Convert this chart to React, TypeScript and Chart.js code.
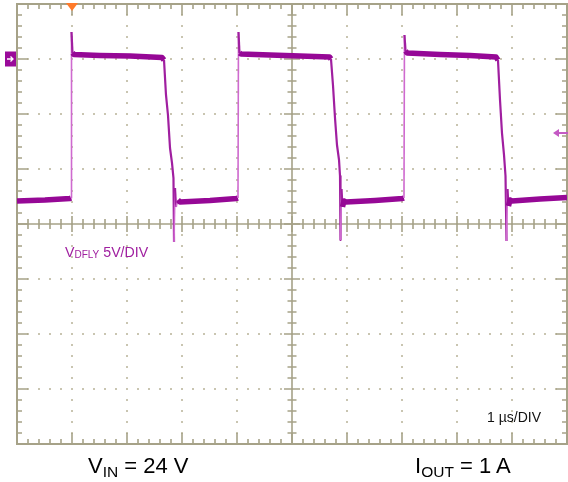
import React, { useEffect, useRef } from 'react';
import { Chart, registerables } from 'chart.js';

Chart.register(...registerables);

// Time axis: 1 µs/div, 10 divisions. Voltage: 5 V/div, channel ground at 0 V.
const timeUs = [
  0, 0.509, 0.964,
  0.982, 0.991, 1.009, 1.036,
  1.509, 2.055, 2.636,
  2.673, 2.709, 2.745, 2.782, 2.818, 2.845, 2.855, 2.873, 2.891, 2.927,
  2.964, 3.509, 3.991,
  4.018, 4.027, 4.045, 4.073,
  4.6, 5.145, 5.682,
  5.709, 5.745, 5.782, 5.818, 5.855, 5.873, 5.882, 5.9, 5.918, 5.945,
  5.982, 6.509, 7.009,
  7.036, 7.045, 7.064, 7.091,
  7.691, 8.236, 8.709,
  8.745, 8.782, 8.818, 8.855, 8.882, 8.9, 8.918, 8.936, 8.964,
  9.0, 9.509, 10,
];
const vDfly = [
  -12.91, -12.82, -12.68,
  -12.64, 2.45, 0.55, 0.41,
  0.32, 0.27, 0.14,
  -0.09, -3.27, -5.09, -8.09, -9.45, -10.82, -16.64, -11.73, -13.45, -12.82,
  -13.0, -12.86, -12.68,
  -12.64, 2.45, 0.55, 0.45,
  0.36, 0.27, 0.18,
  0, -2.36, -5.36, -7.82, -9.18, -10.64, -16.45, -11.82, -13.45, -12.91,
  -13.0, -12.86, -12.68,
  -12.64, 2.18, 0.73, 0.55,
  0.41, 0.32, 0.18,
  -0.09, -3.73, -6.73, -8.73, -10.64, -16.55, -11.82, -13.36, -12.82,
  -12.91, -12.73, -12.59,
];

const xMin = 0;
const xMax = 10;
const yMin = -35;
const yMax = 5;
const voltsPerDiv = 5;
const usPerDiv = 1;
const groundV = 0;
const trigTimeUs = 1.0;
const trigLevelV = -6.73;

const GRID = '#a6a288';
const DOT = '#c9c5b1';
const TRACE = '#960896';
const RISE = '#cf6acf';
const FALL = '#a01fa0';
const FONT = '"Liberation Sans", Arial, sans-serif';

const graticule = {
  id: 'graticule',
  beforeDatasetsDraw(chart: any) {
    const { ctx, chartArea: a, scales } = chart;
    const xs = scales.x;
    const ys = scales.y;
    const L = a.left, R = a.right, T = a.top, B = a.bottom;
    const xc = xs.getPixelForValue((xMin + xMax) / 2);
    const yc = ys.getPixelForValue((yMin + yMax) / 2);
    const nx = Math.round((xMax - xMin) / usPerDiv);
    const ny = Math.round((yMax - yMin) / voltsPerDiv);
    const mx = (R - L) / (nx * 5);
    const my = (B - T) / (ny * 5);
    ctx.save();
    // dotted division lines
    ctx.fillStyle = DOT;
    for (let i = 1; i < nx; i++) {
      if (i * 2 === nx) continue;
      const px = xs.getPixelForValue(xMin + i * usPerDiv);
      for (let k = 1; k < ny * 5; k++) {
        const py = T + k * my;
        ctx.fillRect(Math.round(px) - 1, Math.round(py) - 1, 2, 2);
      }
    }
    for (let j = 1; j < ny; j++) {
      if (j * 2 === ny) continue;
      const py = ys.getPixelForValue(yMax - j * voltsPerDiv);
      for (let k = 1; k < nx * 5; k++) {
        const px = L + k * mx;
        ctx.fillRect(Math.round(px) - 1, Math.round(py) - 1, 2, 2);
      }
    }
    ctx.strokeStyle = GRID;
    // center lines
    ctx.lineWidth = 1.6;
    ctx.beginPath();
    ctx.moveTo(L, yc); ctx.lineTo(R, yc);
    ctx.moveTo(xc, T); ctx.lineTo(xc, B);
    ctx.stroke();
    // ticks
    ctx.lineWidth = 1.6;
    ctx.beginPath();
    for (let k = 1; k < nx * 5; k++) {
      const px = L + k * mx;
      const major = k % 5 === 0;
      const c = major ? 8 : 5;
      ctx.moveTo(px, yc - c); ctx.lineTo(px, yc + c);
      const b = major ? 11 : 5;
      ctx.moveTo(px, T); ctx.lineTo(px, T + b);
      ctx.moveTo(px, B); ctx.lineTo(px, B - b);
    }
    for (let k = 1; k < ny * 5; k++) {
      const py = T + k * my;
      const major = k % 5 === 0;
      const c = major ? 8 : 4.5;
      ctx.moveTo(xc - c, py); ctx.lineTo(xc + c, py);
      const b = major ? 11 : 5;
      ctx.moveTo(L, py); ctx.lineTo(L + b, py);
      ctx.moveTo(R, py); ctx.lineTo(R - b, py);
    }
    ctx.stroke();
    // border
    ctx.lineWidth = 2;
    ctx.strokeRect(L, T, R - L, B - T);
    ctx.restore();
  },
  afterDatasetsDraw(chart: any) {
    const { ctx, chartArea: a, scales } = chart;
    const xs = scales.x;
    const ys = scales.y;
    ctx.save();
    // trigger position marker (top)
    const tx = xs.getPixelForValue(trigTimeUs);
    ctx.fillStyle = '#ff7a2a';
    ctx.beginPath();
    ctx.moveTo(tx - 6, a.top - 1);
    ctx.lineTo(tx + 6, a.top - 1);
    ctx.lineTo(tx, a.top + 7);
    ctx.closePath();
    ctx.fill();
    // channel ground marker (left)
    const gy = ys.getPixelForValue(groundV);
    ctx.fillStyle = '#9a0a9a';
    ctx.fillRect(a.left - 12, gy - 7.5, 11, 15);
    ctx.strokeStyle = '#ffffff';
    ctx.lineWidth = 1.3;
    ctx.beginPath();
    ctx.moveTo(a.left - 10, gy); ctx.lineTo(a.left - 4, gy);
    ctx.moveTo(a.left - 6.5, gy - 2.5); ctx.lineTo(a.left - 4, gy); ctx.lineTo(a.left - 6.5, gy + 2.5);
    ctx.stroke();
    // trigger level marker (right)
    const ly = ys.getPixelForValue(trigLevelV);
    ctx.strokeStyle = '#c458c4';
    ctx.fillStyle = '#c458c4';
    ctx.lineWidth = 2;
    ctx.beginPath();
    ctx.moveTo(a.right - 10, ly); ctx.lineTo(a.right + 1, ly);
    ctx.stroke();
    ctx.beginPath();
    ctx.moveTo(a.right - 14, ly);
    ctx.lineTo(a.right - 8, ly - 4);
    ctx.lineTo(a.right - 8, ly + 4);
    ctx.closePath();
    ctx.fill();
    ctx.restore();
  },
};

function kind(c: any) {
  const dx = Math.abs(c.p1.x - c.p0.x);
  const dy = c.p1.y - c.p0.y;
  if (Math.abs(dy) > 2.5 * dx && Math.abs(dy) > 6) return dy < 0 ? 'rise' : 'fall';
  return 'flat';
}

export default function App() {
  const ref = useRef<HTMLCanvasElement>(null);
  useEffect(() => {
    if (!ref.current) return;
    const chart = new Chart(ref.current, {
      type: 'line',
      data: {
        datasets: [
          {
            label: 'VDFLY',
            data: timeUs.map((t, i) => ({ x: t, y: vDfly[i] })),
            borderColor: TRACE,
            borderWidth: 5,
            pointRadius: 0,
            tension: 0,
            borderJoinStyle: 'round',
            segment: {
              borderWidth: (c: any) => {
                const k = kind(c);
                return k === 'rise' ? 1.6 : k === 'fall' ? 2.2 : 5.5;
              },
              borderColor: (c: any) => {
                const k = kind(c);
                return k === 'rise' ? RISE : k === 'fall' ? FALL : TRACE;
              },
            },
          } as any,
        ],
      },
      options: {
        responsive: false,
        maintainAspectRatio: false,
        animation: false,
        layout: { padding: { left: 17, top: 4, right: 1, bottom: 38 } },
        plugins: { legend: { display: false }, tooltip: { enabled: false } },
        scales: {
          x: { type: 'linear', min: xMin, max: xMax, display: false },
          y: { type: 'linear', min: yMin, max: yMax, display: false },
        },
      },
      plugins: [graticule],
    });
    return () => chart.destroy();
  }, []);

  const lbl: React.CSSProperties = { position: 'absolute', fontFamily: FONT, whiteSpace: 'nowrap', lineHeight: 1 };
  return (
    <div style={{ position: 'absolute', left: 0, top: 0, width: 568, height: 482, background: '#fff' }}>
      <canvas ref={ref} width={568} height={482} style={{ display: 'block', width: 568, height: 482 }} />
      <div style={{ ...lbl, left: 65, top: 245, fontSize: 14.2, color: '#a020a0' }}>
        V<span style={{ fontSize: 10, position: 'relative', top: 1 }}>DFLY</span> 5V/DIV
      </div>
      <div style={{ ...lbl, left: 487, top: 410, fontSize: 14, color: '#111' }}>1 µs/DIV</div>
      <div style={{ ...lbl, left: 88, top: 455, fontSize: 22, color: '#000' }}>
        V<span style={{ fontSize: 15.5, position: 'relative', top: 4 }}>IN</span> = 24 V
      </div>
      <div style={{ ...lbl, left: 415, top: 455, fontSize: 22, color: '#000' }}>
        I<span style={{ fontSize: 15.5, position: 'relative', top: 4 }}>OUT</span> = 1 A
      </div>
    </div>
  );
}
